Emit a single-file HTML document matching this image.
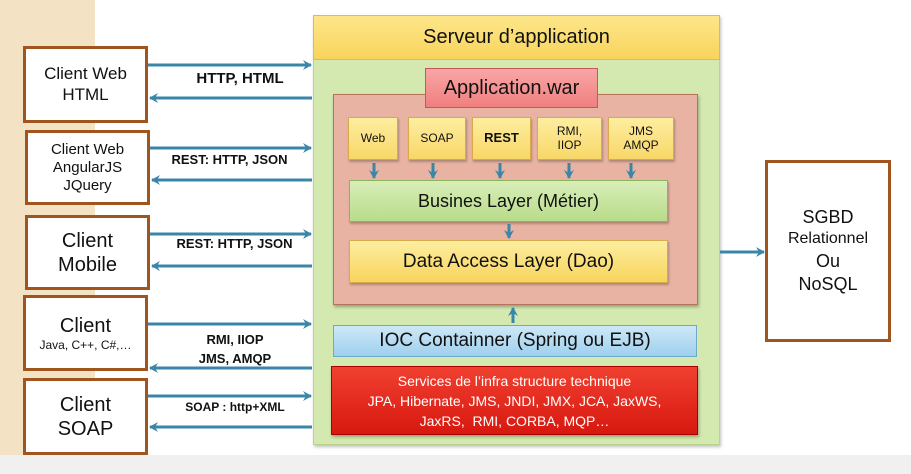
<!DOCTYPE html>
<html><head><meta charset="utf-8"><style>
*{margin:0;padding:0;box-sizing:border-box}
body{width:911px;height:474px;position:relative;overflow:hidden;background:#fff;font-family:"Liberation Sans",sans-serif;color:#111}
.a{position:absolute}
.c{display:flex;align-items:center;justify-content:center;text-align:center;flex-direction:column}
.cl{border:3px solid #a0541e;background:#fff;line-height:1.2}
.lbl{position:absolute;font-weight:bold;font-size:14px;text-align:center}
.sm{border:1px solid #d9a94a;background:linear-gradient(#fdeea0,#f8d768);font-size:12px;line-height:1.15;box-shadow:1px 2px 2px rgba(0,0,0,.25)}
</style></head><body>
<div class="a" style="left:0;top:0;width:95px;height:474px;background:#f3e3c4"></div>
<div class="a" style="left:0;top:455px;width:911px;height:19px;background:#f0f0f0"></div>

<div class="a c cl" style="left:23px;top:46px;width:125px;height:77px;font-size:17px">Client Web<br>HTML</div>
<div class="a c cl" style="left:25px;top:130px;width:125px;height:75px;font-size:15px">Client Web<br>AngularJS<br>JQuery</div>
<div class="a c cl" style="left:25px;top:215px;width:125px;height:75px;font-size:20px">Client<br>Mobile</div>
<div class="a c cl" style="left:23px;top:295px;width:125px;height:76px;font-size:20px">Client<span style="font-size:12px">Java, C++, C#,…</span></div>
<div class="a c cl" style="left:23px;top:378px;width:125px;height:77px;font-size:20px">Client<br>SOAP</div>

<div class="lbl" style="left:175px;top:70px;width:130px;font-size:15px">HTTP, HTML</div>
<div class="lbl" style="left:152px;top:152px;width:155px;font-size:13px">REST: HTTP, JSON</div>
<div class="lbl" style="left:157px;top:236px;width:155px;font-size:13px">REST: HTTP, JSON</div>
<div class="lbl" style="left:170px;top:330px;width:130px;font-size:13px;line-height:19px">RMI, IIOP<br>JMS, AMQP</div>
<div class="lbl" style="left:160px;top:400px;width:150px;font-size:12px">SOAP : http+XML</div>

<div class="a" style="left:313px;top:15px;width:407px;height:430px;background:#d4e9b0;border:1px solid #b9d48f;box-shadow:1px 2px 3px rgba(0,0,0,.25)"></div>
<div class="a c" style="left:313px;top:15px;width:407px;height:45px;background:linear-gradient(#fde68a,#f8d45c);border:1px solid #e2b94c;font-size:20px">Serveur d’application</div>
<div class="a" style="left:333px;top:94px;width:365px;height:211px;background:#e8b3a2;border:1px solid #b8735e;box-shadow:1px 2px 3px rgba(0,0,0,.3)"></div>
<div class="a c" style="left:425px;top:68px;width:173px;height:40px;background:linear-gradient(#f8a6a6,#f08080);border:1px solid #c55;font-size:20px">Application.war</div>

<div class="a c sm" style="left:348px;top:117px;width:50px;height:43px">Web</div>
<div class="a c sm" style="left:408px;top:117px;width:58px;height:43px">SOAP</div>
<div class="a c sm" style="left:472px;top:117px;width:59px;height:43px;font-weight:bold;font-size:13px">REST</div>
<div class="a c sm" style="left:537px;top:117px;width:65px;height:43px">RMI,<br>IIOP</div>
<div class="a c sm" style="left:608px;top:117px;width:66px;height:43px">JMS<br>AMQP</div>

<div class="a c" style="left:349px;top:180px;width:319px;height:42px;background:linear-gradient(#d8eeb8,#b8dc8a);border:1px solid #8db45e;font-size:18px;box-shadow:1px 2px 2px rgba(0,0,0,.25)">Busines Layer (Métier)</div>
<div class="a c" style="left:349px;top:240px;width:319px;height:43px;background:linear-gradient(#fdeea0,#f8d45c);border:1px solid #d9a94a;font-size:19px;box-shadow:1px 2px 2px rgba(0,0,0,.25)">Data Access Layer (Dao)</div>
<div class="a c" style="left:333px;top:325px;width:364px;height:32px;background:linear-gradient(#cde8f7,#9fd0ee);border:1px solid #6fa8c8;font-size:19px">IOC Containner (Spring ou EJB)</div>
<div class="a c" style="left:331px;top:366px;width:367px;height:69px;background:linear-gradient(#f04030,#d81810);border:1px solid #a00;color:#fff;font-size:14px;line-height:20px;box-shadow:1px 2px 3px rgba(0,0,0,.3)">Services de l’infra structure technique<br>JPA, Hibernate, JMS, JNDI, JMX, JCA, JaxWS,<br>JaxRS,&nbsp; RMI, CORBA, MQP…</div>

<div class="a c cl" style="left:765px;top:160px;width:126px;height:182px;font-size:18px;line-height:1.3">SGBD<br><span style="font-size:16px">Relationnel</span>Ou<br>NoSQL</div>

<svg class="a" style="left:0;top:0" width="911" height="474">
<defs><marker id="m" markerUnits="userSpaceOnUse" markerWidth="10" markerHeight="10" refX="8" refY="5" orient="auto"><path d="M0,0 L9,5 L0,10 L3,5z" fill="#3a86a8"/></marker></defs>
<g stroke="#3a86a8" stroke-width="3" marker-end="url(#m)">
<line x1="148" y1="65" x2="311" y2="65"/><line x1="312" y1="98" x2="150" y2="98"/>
<line x1="150" y1="148" x2="311" y2="148"/><line x1="312" y1="180" x2="152" y2="180"/>
<line x1="150" y1="234" x2="311" y2="234"/><line x1="312" y1="266" x2="152" y2="266"/>
<line x1="148" y1="324" x2="311" y2="324"/><line x1="312" y1="368" x2="150" y2="368"/>
<line x1="148" y1="396" x2="311" y2="396"/><line x1="312" y1="427" x2="150" y2="427"/>
<line x1="720" y1="252" x2="764" y2="252"/>
</g>
<g stroke="#3a86a8" stroke-width="3" marker-end="url(#m)">
<line x1="374" y1="163" x2="374" y2="178"/><line x1="433" y1="163" x2="433" y2="178"/>
<line x1="500" y1="163" x2="500" y2="178"/><line x1="569" y1="163" x2="569" y2="178"/>
<line x1="631" y1="163" x2="631" y2="178"/><line x1="509" y1="224" x2="509" y2="238"/>
<line x1="513" y1="323" x2="513" y2="308"/>
</g></svg>
</body></html>
